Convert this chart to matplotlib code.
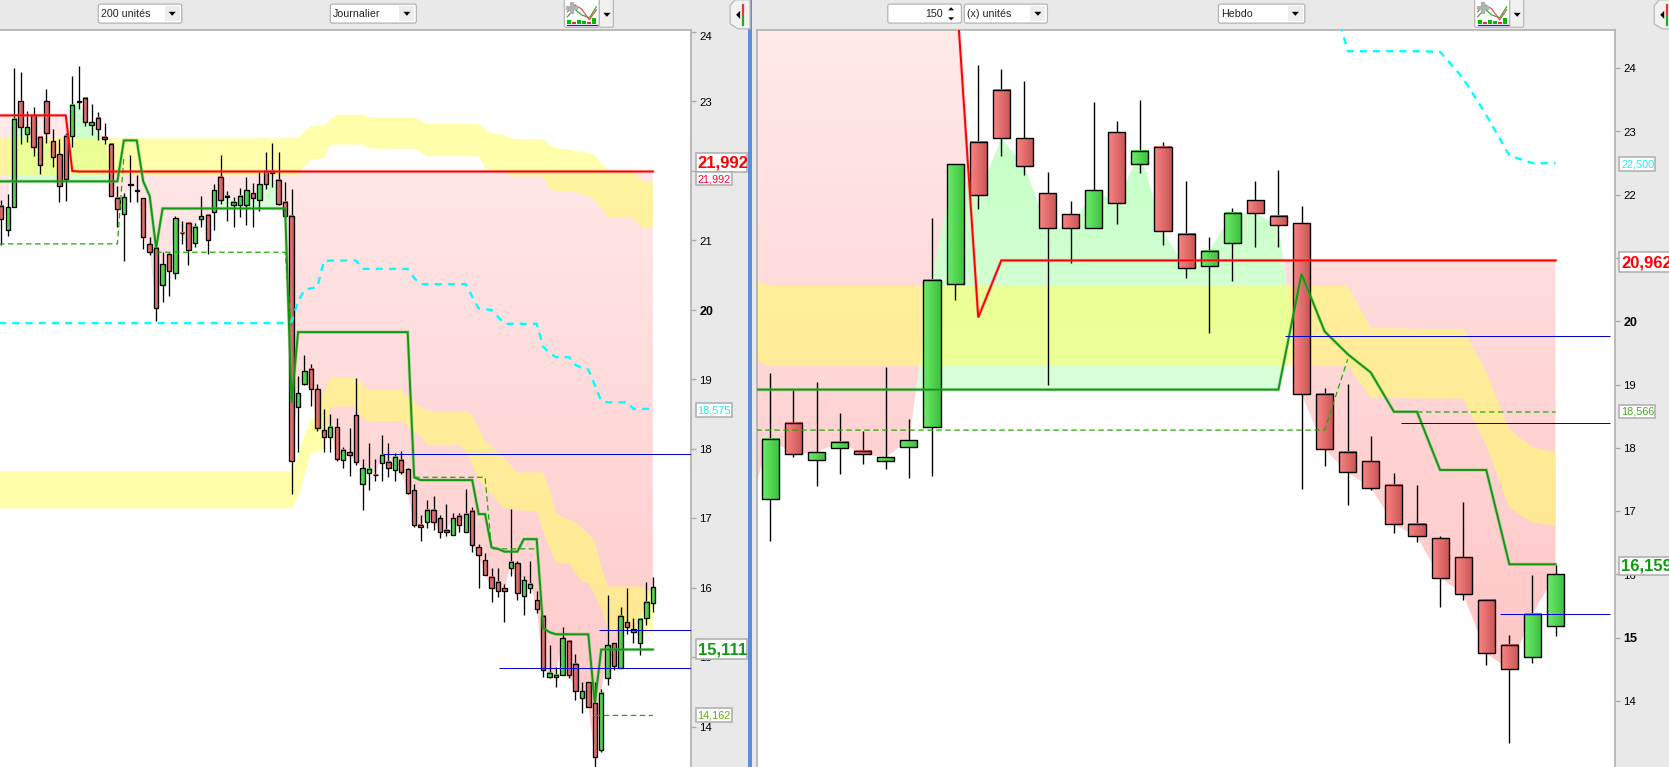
import numpy as np
import matplotlib
matplotlib.use("Agg")
import matplotlib.pyplot as plt
from matplotlib.patches import Rectangle, FancyBboxPatch, Polygon
from matplotlib.path import Path

W, H = 1669, 767
plt.rcParams['font.family'] = ['Liberation Sans', 'DejaVu Sans']

# ---------- left pane (daily) ----------
left_high = [21.58,21.67,23.48,23.42,22.86,22.92,22.49,23.18,22.60,22.46,22.54,23.36,23.51,23.06,22.96,22.85,22.69,22.39,21.78,21.68,
             22.23,21.94,21.61,21.05,20.89,20.84,20.82,21.35,21.28,21.25,21.25,21.64,21.36,21.81,22.23,21.71,21.62,21.75,21.91,21.82,
             21.98,22.27,22.40,22.27,21.84,21.74,19.05,19.35,19.22,18.94,18.58,18.50,18.44,18.03,18.30,19.02,17.85,18.09,17.86,18.20,
             18.08,17.94,17.97,17.73,17.50,17.05,17.26,17.32,17.05,17.20,17.07,17.07,17.42,17.16,16.63,16.50,16.29,16.29,16.06,17.14,
             16.38,16.17,16.38,15.95,15.60,15.17,14.86,15.44,15.24,15.04,14.65,14.65,14.64,14.54,15.89,15.20,15.73,16.00,15.56,15.57,
             16.08,16.15]
left_top = [21.50,21.48,22.75,23.00,22.63,22.80,22.49,23.00,22.43,22.24,22.50,22.95,23.00,23.05,22.70,22.76,22.49,22.39,21.61,21.62,
            21.81,21.72,21.61,20.95,20.89,20.66,20.80,21.32,21.11,21.25,21.20,21.35,21.36,21.72,21.92,21.64,21.56,21.64,21.72,21.68,
            21.81,22.00,22.00,21.87,21.56,21.35,18.80,19.12,19.15,18.86,18.27,18.32,18.32,17.99,17.95,18.48,17.72,17.71,17.63,17.91,
            17.81,17.88,17.84,17.71,17.40,16.90,17.12,17.12,17.00,16.83,17.00,17.03,17.06,17.10,16.58,16.40,16.16,16.09,15.99,16.37,
            16.35,16.11,16.05,15.82,15.60,14.78,14.75,15.27,15.24,14.90,14.52,14.64,14.34,14.49,15.17,15.20,15.60,15.50,15.40,15.55,
            15.80,16.01]
left_bot = [21.31,21.15,21.48,22.63,22.53,22.34,22.08,22.54,22.20,21.78,21.88,22.50,22.99,22.70,22.66,22.60,22.46,21.64,21.45,21.38,
            21.80,21.71,21.05,20.84,20.02,20.36,20.56,20.53,21.10,20.86,20.96,21.31,21.00,21.41,21.58,21.62,21.51,21.51,21.51,21.61,
            21.58,21.81,21.97,21.52,21.35,17.82,18.60,18.94,18.86,18.30,18.17,18.17,17.86,17.84,17.91,17.81,17.50,17.65,17.62,17.79,
            17.72,17.69,17.66,17.37,16.91,16.87,16.94,16.94,16.80,16.80,16.76,16.90,16.80,16.61,16.47,16.19,15.99,15.95,15.96,16.28,
            15.93,15.88,15.99,15.70,14.81,14.72,14.72,14.75,14.75,14.51,14.42,14.29,13.57,13.66,14.70,14.88,14.85,15.44,15.37,15.20,
            15.56,15.78]
left_low = [20.93,21.06,21.48,22.39,22.42,22.22,21.96,22.40,22.06,21.55,21.57,22.35,22.89,22.64,22.52,22.44,22.39,21.64,21.20,20.70,
            21.55,21.55,20.88,20.79,19.84,20.12,20.20,20.45,20.95,20.64,20.90,21.20,20.80,21.15,21.52,21.28,21.20,21.34,21.22,21.20,
            21.42,21.74,21.77,21.51,21.34,17.35,17.95,18.92,18.62,18.25,17.96,17.96,17.82,17.73,17.61,17.76,17.12,17.40,17.54,17.54,
            17.59,17.54,17.64,17.35,16.88,16.68,16.86,16.83,16.71,16.74,16.76,16.80,16.80,16.52,15.99,16.19,15.79,15.86,15.50,16.17,
            15.82,15.61,15.92,15.63,14.71,14.70,14.57,14.75,14.70,14.39,14.19,14.28,13.42,13.64,14.60,14.81,14.84,15.34,15.21,15.03,
            15.47,15.65]
# True where the body is green (close above open)
left_up = [0,1,1,0,1,0,0,0,0,0,0,1,0,0,1,0,0,0,0,1,
           0,0,0,0,0,1,0,1,0,0,1,1,0,1,0,0,1,1,1,0,
           1,0,0,0,0,0,1,1,0,0,0,1,0,1,0,0,1,1,0,1,
           0,1,0,0,0,0,1,0,0,1,1,0,1,0,0,0,0,0,0,1,
           0,1,1,0,0,1,1,1,0,0,1,0,0,1,1,0,1,0,0,1,
           1,1]
left_red_line = [22.80]*11 + [22.00] + [21.992]*90
left_green_line = ([21.85]*19 + [22.44,22.44,22.44,21.85,21.64,20.89] + [21.46]*20 + [18.66] + [19.68]*18 +
                   [17.59] + [17.55]*9 + [17.06,17.06,16.58,16.56,16.52,16.52,16.52,16.70,16.70,16.70,15.42,15.36] +
                   [15.33]*6 + [14.34] + [15.111]*9)
left_cyan = ([19.81]*45 + [19.83,20.12,20.29,20.31,20.33,20.70,20.71,20.71,20.71,20.71,20.71] + [20.59]*8 + [20.46] + [20.37]*8 +
             [20.19,20.02,20.01,20.00,19.90] + [19.80]*6 + [19.47,19.38,19.32,19.32,19.32,19.21,19.16,19.14,18.92,18.69,18.67,18.67,18.67,18.67] +
             [18.575]*4)
left_dash = ([20.95]*19 + [22.20] + [np.nan]*4 + [20.83]*21 + [19.70] + [np.nan]*18 + [17.59]*12 + [16.56]*8 +
             [np.nan]*8 + [14.162]*10)
left_cloud1_up = ([22.47]*46 + [22.48,22.56,22.65,22.65,22.66,22.74,22.81,22.81,22.81,22.81,22.81,22.78] + [22.77]*7 + [22.73] + [22.68]*9 +
                  [22.60,22.54,22.53,22.52,22.47,22.46,22.46,22.46,22.46,22.46,22.37,22.34,22.32,22.31,22.29,22.28,22.26,22.22,22.11,22.02,22.01,22.00,22.00,21.99,21.88,21.85,21.85])
left_cloud1_lo = ([21.93]*46 + [21.94,22.06,22.16,22.17,22.18,22.37,22.38,22.38,22.38,22.38,22.38,22.33] + [22.32]*7 + [22.27] + [22.21]*9 +
                  [22.04,22.01,22.00,21.99,21.92,21.92,21.92,21.92,21.92,21.92,21.74,21.71,21.70,21.70,21.69,21.67,21.63,21.58,21.46,21.34,21.34,21.34,21.33,21.33,21.20,21.19,21.19])
left_cloud2_up = ([17.68]*46 + [17.91,18.20,18.42,18.49,18.82] + [19.03]*5 + [18.94] + [18.85]*6 + [18.76,18.68,18.60,18.54,18.54,18.54,18.54,18.54,18.54,18.54,
                  18.48,18.30,18.10,18.04,17.94,17.86,17.76,17.66,17.66,17.66,17.66,17.66,17.40,17.07,17.02,16.98,16.94,16.86,16.78,16.66,16.30,16.02,16.02,16.02,16.02,16.02,16.02,15.98,15.94])
left_cloud2_lo = ([17.14]*46 + [17.31,17.62,17.94,17.96,17.98,18.58] + [18.61]*4 + [18.44] + [18.40]*6 + [18.33,18.26,18.18,18.06,18.06,18.06,18.06,18.06,18.06,17.96,
                  17.78,17.55,17.45,17.34,17.24,17.14,17.13,17.12,17.11,17.10,17.10,16.82,16.57,16.36,16.35,16.35,16.22,16.09,16.07,15.90,15.70,15.42,15.40,15.38,15.36,15.35,15.34,15.34,15.34])

left_ticks = [14,15,16,17,18,19,20,21,22,23,24]
left_bold_ticks = [20]
left_levels = [(17.92,59.2),(15.39,92.7),(14.85,77.2)]

# ---------- right pane (weekly) ----------
right_high = [19.18,18.92,19.04,18.55,18.27,19.27,18.46,21.64,22.48,24.05,23.98,23.80,22.36,21.90,23.46,23.16,23.49,22.83,22.21,21.33,
              21.79,22.22,22.39,21.83,18.95,19.01,18.18,17.60,17.41,16.61,17.14,15.59,15.04,15.99,16.15]
right_top = [18.14,18.39,17.93,18.09,17.95,17.85,18.12,20.66,22.48,22.83,23.65,22.89,22.02,21.69,22.07,22.99,22.69,22.75,21.38,21.11,
             21.71,21.91,21.67,21.55,18.85,17.94,17.79,17.41,16.79,16.58,16.27,15.59,14.89,15.37,16.00]
right_bot = [17.19,17.90,17.81,17.99,17.90,17.79,18.02,18.33,20.59,21.99,22.89,22.45,21.47,21.47,21.47,21.87,22.48,21.42,20.84,20.87,
             21.23,21.71,21.52,18.85,17.98,17.61,17.37,16.79,16.60,15.95,15.69,14.75,14.50,14.69,15.19]
right_low = [16.53,17.86,17.40,17.59,17.74,17.67,17.53,17.56,20.33,21.78,22.62,22.32,19.00,20.92,21.47,21.53,22.35,21.21,20.69,19.82,
             20.63,21.18,21.18,17.35,17.72,17.09,17.33,16.66,16.51,15.49,15.60,14.56,13.34,14.60,15.02]
right_up = [1,0,1,1,0,1,1,1,1,0,0,0,0,0,1,0,1,0,0,1,1,0,0,0,0,0,0,0,0,0,0,0,0,1,1]
# first entry of the line series below is the unit just off the left edge
right_lead_close = 17.01
right_red_line = [25.5]*10 + [20.06] + [20.962]*25
right_green_line = [18.92]*24 + [20.75,19.84,19.48,19.19,18.57,18.57,17.65,17.65,17.65,16.159,16.159,16.159]
right_cloud_up = [20.70] + [20.56]*26 + [19.89,19.89,19.88,19.88,19.88,19.20,18.29,18.01,17.93]
right_cloud_lo = [19.42] + [19.30]*26 + [18.79,18.79,18.78,18.78,18.78,18.04,17.05,16.82,16.77]
right_cyan = [25.6,24.27,24.27,24.27,24.27,24.26,23.84,23.26,22.62,22.50,22.50]
right_dash = [18.28]*25 + [18.28,19.40,np.nan,np.nan] + [18.566]*7
right_ticks = [14,15,16,17,18,19,20,21,22,23,24]
right_bold_ticks = [15,20]
right_levels = [(19.76,22.3),(18.40,27.3),(15.37,31.6)]

# ---------- captions ----------
labels_left = [("21,992","#ff0000",True,152.7,172.3),("21,992","#ff0033",False,172.3,185.3),
               ("18,575","#22eeee",False,402.7,416.7),("15,111","#119911",True,639.3,659.3),("14,162","#66aa11",False,707.7,722.3)]
labels_right = [("22,500","#22eeee",False,157.5,171),("20,962","#ff0000",True,252.4,272),
                ("18,566","#44aa22",False,404.6,418.5),("16,159","#119911",True,556.7,575.3)]

L_X0, L_STEP = 1.3, 6.45
R_X0, R_STEP = 770.3, 23.09
L_PX = 69.45
R_PX = 63.25

fig = plt.figure(figsize=((W+.2)/100, (H+.2)/100), dpi=100, facecolor="#e9e9e9")

def pane(x0, x1, xlim, ylim):
    ax = fig.add_axes([x0/W, 0, (x1-x0)/W, (H-30)/H], facecolor="white")
    ax.set_xlim(*xlim); ax.set_ylim(*ylim)
    ax.set_autoscale_on(False)
    ax.set_xticks([])
    ax.yaxis.tick_right()
    for s in ax.spines.values():
        s.set_color("#b0b0b0"); s.set_linewidth(1.2)
    ax.spines['bottom'].set_visible(False)
    return ax

axL = pane(0, 690.7, ((0-L_X0)/L_STEP, (690.7-L_X0)/L_STEP), (20-(767-310)/L_PX, 20+(310-30)/L_PX))
axL.spines['left'].set_visible(False)
axR = pane(757, 1614.7, ((757-R_X0)/R_STEP, (1614.7-R_X0)/R_STEP), (20-(767-321.4)/R_PX, 20+(321.4-30)/R_PX))

def grad_fill(ax, x, a, b, where, top, bottom, ylo, yhi, z=1):
    coll = ax.fill_between(x, a, b, where=where, interpolate=True, facecolor="none", edgecolor="none")
    paths = [p for p in coll.get_paths() if len(p.vertices)]
    coll.remove()
    if not paths:
        return
    c0 = np.array(matplotlib.colors.to_rgb(top)); c1 = np.array(matplotlib.colors.to_rgb(bottom))
    t = np.linspace(0, 1, 256)[:, None]
    img = (c0*(1-t) + c1*t)[:, None, :]
    xl = ax.get_xlim()
    im = ax.imshow(img, extent=(xl[0], xl[1], ylo, yhi), aspect="auto", zorder=z, origin="upper", interpolation="bilinear")
    im.set_clip_path(Path.make_compound_path(*paths), transform=ax.transData)

def candles(ax, hi, top, bot, lo, up, width, lw):
    n = len(hi)
    g = np.linspace(0, 1, 32)[None, :, None]
    green = np.array([0.42,0.93,0.42])*(1-g) + np.array([0.24,0.75,0.24])*g
    red = np.array([0.98,0.52,0.52])*(1-g) + np.array([0.79,0.33,0.33])*g
    for i in range(n):
        ax.plot([i, i], [lo[i], hi[i]], color="black", lw=lw, zorder=4, solid_capstyle="butt")
    for i in range(n):
        x0 = i - width/2
        ax.imshow(green if up[i] else red, extent=(x0, x0+width, bot[i], top[i]), aspect="auto",
                  zorder=5, interpolation="bilinear")
        ax.add_patch(Rectangle((x0, bot[i]), width, top[i]-bot[i], fill=False, edgecolor="black", lw=lw, zorder=6))

def glow(ax, x, y, color, halo, lw=1.4, z=7):
    ax.plot(x, y, color=halo, lw=lw+1.1, alpha=.4, zorder=z, solid_joinstyle="miter")
    ax.plot(x, y, color=color, lw=lw, zorder=z+.1, solid_joinstyle="miter")

def draw(ax, x_all, close, red, green, cyan_x, cyan, dash_x, dash, clouds, hi, top, bot, lo, up, width, lw, levels, xmax, pink_span, green_span):
    grad_fill(ax, x_all, close, red, close < red, "#ffeaea", "#ffc6c6", *pink_span)
    grad_fill(ax, x_all, close, green, close > green, "#c6ffc6", "#daffda", *green_span)
    for xc, cu, cl in clouds:
        ax.fill_between(xc, cl, cu, facecolor="#ffff66", alpha=.55, lw=0, zorder=2)
    candles(ax, hi, top, bot, lo, up, width, lw)
    ax.plot(dash_x, dash, color="#22aa00", lw=.9, ls=(0, (4.4, 2.8)), zorder=6.5)
    ax.plot(cyan_x, cyan, color="#00ffff", lw=1.7, ls=(0, (3, 2.6)), zorder=6.6)
    glow(ax, x_all, red, "#ff0000", "#ff8080")
    glow(ax, x_all, green, "#119911", "#66bb66", z=7.5)
    for p, start in levels:
        ax.plot([start, xmax], [p, p], color="#0000cc", lw=.72, zorder=8, solid_capstyle="butt")

def ticks(ax, vals, bold):
    ax.set_yticks(vals)
    ax.set_yticklabels([str(v) for v in vals], fontsize=8.2, color="black")
    ax.tick_params(axis="y", length=3.6, width=.9, color="#a8a8a8", pad=2.5)
    for t, v in zip(ax.get_yticklabels(), vals):
        if v in bold:
            t.set_fontweight("bold"); t.set_fontsize(9)

def lead(v):
    return np.r_[v[0], np.array(v, dtype=float)]

xL = np.arange(len(left_high), dtype=float)
xL_full = np.r_[-1.0, xL]
closeL = np.array([t if u else b for t, b, u in zip(left_top, left_bot, left_up)])
draw(axL, xL_full, lead(closeL), lead(left_red_line), lead(left_green_line), xL_full, lead(left_cyan), xL_full, lead(left_dash),
     [(xL_full, lead(left_cloud1_up), lead(left_cloud1_lo)), (xL_full, lead(left_cloud2_up), lead(left_cloud2_lo))],
     left_high, left_top, left_bot, left_low, left_up, 0.68, .95, left_levels, axL.get_xlim()[1], (13.4, 22.9), (21.4, 23.2))
ticks(axL, left_ticks, left_bold_ticks)
for t in axL.get_yticklabels():
    if t.get_text() == "24":
        t.set_verticalalignment("top")

xR = np.arange(-1, len(right_high), dtype=float)
closeR = np.array([right_lead_close] + [t if u else b for t, b, u in zip(right_top, right_bot, right_up)])
cyanR_x = np.arange(24, 35, dtype=float)
draw(axR, xR, closeR, np.array(right_red_line), np.array(right_green_line), cyanR_x, right_cyan, xR, right_dash,
     [(xR, right_cloud_up, right_cloud_lo)],
     right_high, right_top, right_bot, right_low, right_up, 0.74, 1.0, right_levels, axR.get_xlim()[1]-.23, (14.4, 24.7), (18.8, 23.0))
ticks(axR, right_ticks, right_bold_ticks)

# ---------- application chrome, in pixels ----------
ui = fig.add_axes([0, 0, 1, 1], zorder=10)
ui.set_xlim(0, W); ui.set_ylim(H, 0); ui.axis("off")

ui.add_patch(Rectangle((748.3, 0), 4, H, facecolor="#5b8ddf", edgecolor="none"))

def combo(x0, x1, text, arrow=True):
    ui.add_patch(FancyBboxPatch((x0+1, 4.3), x1-x0-2, 19, boxstyle="round,pad=0,rounding_size=2", facecolor="white", edgecolor="#b4b4b4", lw=.9))
    ui.text(x0+4, 14.2, text, fontsize=7.7, color="#222222", va="center")
    if arrow:
        ui.add_patch(Rectangle((x1-18, 6), 15, 15, facecolor="#ededed", edgecolor="none"))
        ui.add_patch(Polygon([(x1-14, 12), (x1-7, 12), (x1-10.5, 16)], facecolor="black", edgecolor="none"))

combo(97.3, 182.7, "200 unités")
combo(329.3, 417.3, "Journalier")
combo(886.7, 962.3, "", arrow=False)
ui.text(943, 14.2, "150", fontsize=7.7, color="#222222", va="center", ha="right")
ui.add_patch(Polygon([(948, 10.5), (954, 10.5), (951, 7.5)], facecolor="black"))
ui.add_patch(Polygon([(948, 17.5), (954, 17.5), (951, 20.5)], facecolor="black"))
combo(963.3, 1048.3, "(x) unités")
combo(1217.3, 1305.7, "Hebdo")

def icon(x0):
    ui.add_patch(FancyBboxPatch((x0, -2), 35, 29.5, boxstyle="round,pad=0,rounding_size=2", facecolor="white", edgecolor="#b8b8b8", lw=.9))
    ui.add_patch(FancyBboxPatch((x0+35, -2), 14, 29.5, boxstyle="round,pad=0,rounding_size=2", facecolor="#f0f0f0", edgecolor="#b8b8b8", lw=.9))
    ui.add_patch(Polygon([(x0+39, 13), (x0+46, 13), (x0+42.5, 17)], facecolor="black"))
    ui.plot([x0+3, x0+10, x0+17, x0+25, x0+32], [17, 9, 15, 18, 7], color="#33aa33", lw=.9)
    ui.plot([x0+3, x0+10, x0+17, x0+25, x0+32], [12, 5, 9, 20, 10], color="#dd5555", lw=.9)
    for k, (hh, c) in enumerate([(4, "#00bb00"), (2, "#dd3333"), (4, "#00bb00"), (3, "#00bb00"), (2, "#dd3333"), (6, "#00bb00")]):
        ui.add_patch(Rectangle((x0+3+k*5, 24-hh), 4, hh, facecolor=c, edgecolor="none"))
    ui.plot([x0+3, x0+33], [25, 25], color="#2222cc", lw=.9)
    ui.plot([x0+8, x0+8], [4, 12], color="#aab4b4", lw=3)
    ui.plot([x0+4, x0+12], [8, 8], color="#aab4b4", lw=3)

icon(564.3)
icon(1474.5)

def corner(x0):
    ui.add_patch(Polygon([(x0+5, 0), (x0, 6), (x0, 24), (x0+8, 29), (x0+20, 29), (x0+20, 0)], facecolor="#f2f2f2", edgecolor="#b8b8b8", lw=.9))
    ui.add_patch(Polygon([(x0+6, 15), (x0+10, 11), (x0+10, 19)], facecolor="black"))
    ui.plot([x0+13, x0+13], [5, 14], color="#ee3333", lw=1.6)
    ui.plot([x0+13, x0+13], [16, 25], color="#22aa22", lw=1.6)

corner(730)
corner(1654)

def box(x0, x1, y0, y1, text, color, bold, tx):
    ui.add_patch(Rectangle((x0, y0), x1-x0, y1-y0, facecolor="white", edgecolor="#acacac", lw=1.1, clip_on=True))
    ui.text(tx, (y0+y1)/2+.3, text, color=color, fontsize=12 if bold else 7.8, fontweight="bold" if bold else "normal", va="center", ha="left", clip_on=True)

for text, col, bold, y0, y1 in labels_left:
    box(695.7, 747.3 if bold else 731.5, y0, y1, text, col, bold, 697.5)
for text, col, bold, y0, y1 in labels_right:
    box(1619.3, 1672 if bold else 1655.3, y0, y1, text, col, bold, 1621)

fig.savefig("out.png", dpi=100, facecolor=fig.get_facecolor())
